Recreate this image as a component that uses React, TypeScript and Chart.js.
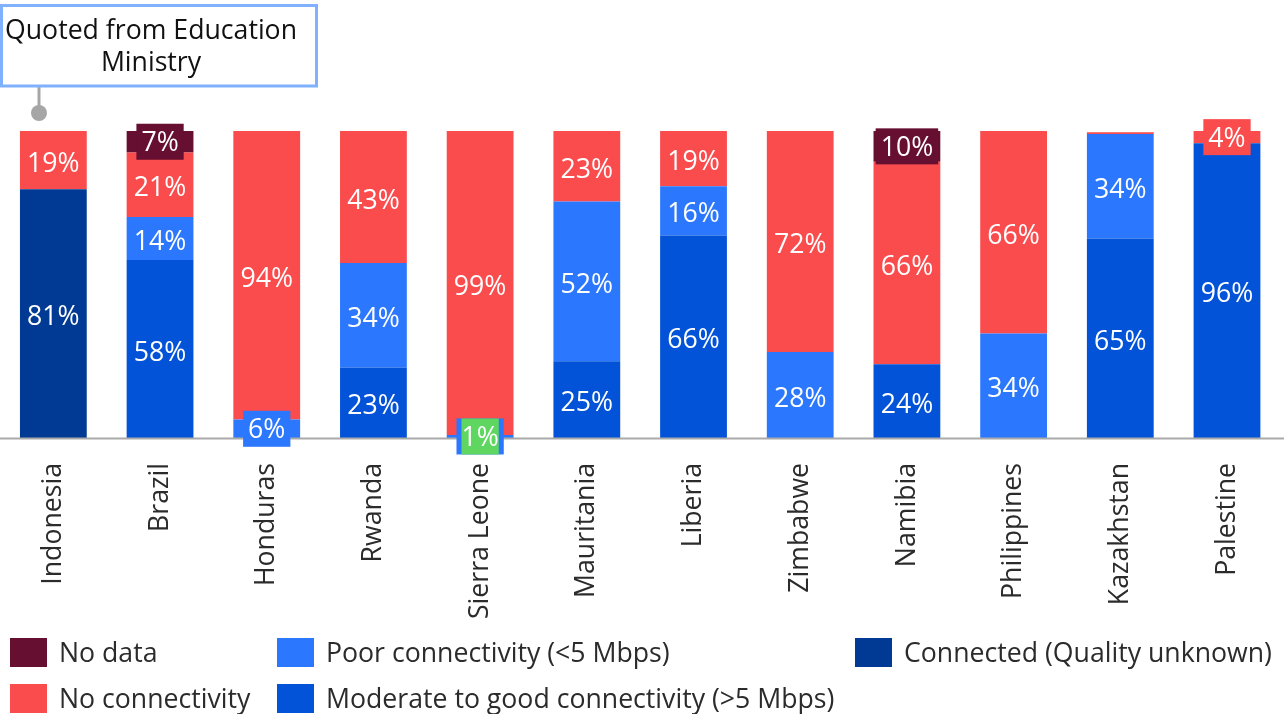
import React, { useEffect, useRef } from "react";
import { Chart, registerables } from "chart.js";

Chart.register(...registerables);

const countries = [
  "Indonesia",
  "Brazil",
  "Honduras",
  "Rwanda",
  "Sierra Leone",
  "Mauritania",
  "Liberia",
  "Zimbabwe",
  "Namibia",
  "Philippines",
  "Kazakhstan",
  "Palestine",
];

// Share of schools (%) per connectivity status, stacked bottom to top
const connectedUnknown = [81, 0, 0, 0, 0, 0, 0, 0, 0, 0, 0, 0];
const moderateGood = [0, 58, 0, 23, 0, 25, 66, 0, 24, 0, 65, 96];
const poorConnectivity = [0, 14, 6, 34, 1, 52, 16, 28, 0, 34, 34, 0];
const noConnectivity = [19, 21, 94, 43, 99, 23, 19, 72, 66, 66, 0.6, 4];
const noData = [0, 7, 0, 0, 0, 0, 0, 0, 10, 0, 0, 0];

const seriesNames = [
  "Connected (Quality unknown)",
  "Moderate to good connectivity (>5 Mbps)",
  "Poor connectivity (<5 Mbps)",
  "No connectivity",
  "No data",
];
const seriesColors = ["#013a94", "#0353d9", "#2b78ff", "#fa4b4d", "#660f31"];
const seriesValues = [connectedUnknown, moderateGood, poorConnectivity, noConnectivity, noData];

// Categories whose small value label gets a green marker
const highlightedLabels = ["Sierra Leone"];

const annotationLines = ["Quoted from Education", "Ministry"];
const annotationCountry = "Indonesia";

// Legend layout: [series index, column, row]
const legendItems: [number, number, number][] = [
  [4, 0, 0],
  [3, 0, 1],
  [2, 1, 0],
  [1, 1, 1],
  [0, 2, 0],
];

const FONT = "'Open Sans', 'Noto Sans', sans-serif";
const FONT_SIZE = 26.67;
const TEXT_COLOR = "#2b2b2b";
const W = 1284;
const H = 714;

const labelsPlugin = {
  id: "segmentLabels",
  afterDatasetsDraw(chart: any) {
    const { ctx, chartArea } = chart;
    ctx.save();
    // baseline
    ctx.strokeStyle = "#aaaaaa";
    ctx.lineWidth = 2;
    ctx.beginPath();
    ctx.moveTo(0, chartArea.bottom + 0.5);
    ctx.lineTo(W, chartArea.bottom + 0.5);
    ctx.stroke();

    ctx.font = `${FONT_SIZE}px ${FONT}`;
    ctx.textAlign = "center";
    ctx.textBaseline = "middle";
    chart.data.datasets.forEach((ds: any, di: number) => {
      const meta = chart.getDatasetMeta(di);
      meta.data.forEach((bar: any, i: number) => {
        const v = ds.data[i];
        if (!v || v < 1) return;
        const { x, y, base } = bar.getProps(["x", "y", "base"], true);
        const top = Math.max(Math.min(y, base), chartArea.top);
        const bottom = Math.max(y, base);
        const cy = (top + bottom) / 2;
        const text = `${v}%`;
        const tw = ctx.measureText(text).width;
        if (bottom - top < 36) {
          ctx.fillStyle = ds.backgroundColor;
          ctx.fillRect(x - tw / 2 - 5, cy - 18, tw + 10, 36);
          if (highlightedLabels.includes(chart.data.labels[i])) {
            ctx.fillStyle = "#5fd65f";
            ctx.fillRect(x - tw / 2, cy - 18, tw, 36);
          }
          ctx.fillStyle = "#ffffff";
          ctx.fillText(text, x, cy + 2);
        } else {
          ctx.fillStyle = "#ffffff";
          ctx.fillText(text, x, cy + 4);
        }
      });
    });
    ctx.restore();
  },
  afterDraw(chart: any) {
    const { ctx, scales } = chart;
    ctx.save();
    // callout
    const ax = Math.round(scales.x.getPixelForValue(countries.indexOf(annotationCountry)) - 14.5);
    ctx.strokeStyle = "#a6a6a6";
    ctx.lineWidth = 3;
    ctx.beginPath();
    ctx.moveTo(ax, 87);
    ctx.lineTo(ax, 113);
    ctx.stroke();
    ctx.fillStyle = "#a6a6a6";
    ctx.beginPath();
    ctx.arc(ax, 113, 8, 0, Math.PI * 2);
    ctx.fill();
    ctx.fillStyle = "#ffffff";
    ctx.fillRect(1.5, 5.5, 315, 80.5);
    ctx.strokeStyle = "#80b1ff";
    ctx.lineWidth = 3;
    ctx.strokeRect(1.5, 5.5, 315, 80.5);
    ctx.fillStyle = "#111111";
    ctx.font = `${FONT_SIZE}px ${FONT}`;
    ctx.textAlign = "center";
    ctx.textBaseline = "alphabetic";
    annotationLines.forEach((line, k) => ctx.fillText(line, 151, 39 + k * 32));

    // legend
    const colX = [10, 277, 855];
    const rowY = [638, 684];
    ctx.font = `${FONT_SIZE}px ${FONT}`;
    ctx.textAlign = "left";
    ctx.textBaseline = "middle";
    legendItems.forEach(([si, c, r]) => {
      ctx.fillStyle = seriesColors[si];
      ctx.fillRect(colX[c], rowY[r], 37, 29);
      ctx.fillStyle = TEXT_COLOR;
      ctx.fillText(seriesNames[si], colX[c] + 49, rowY[r] + 16.5);
    });
    ctx.restore();
  },
};

export default function App() {
  const canvasRef = useRef<HTMLCanvasElement>(null);

  useEffect(() => {
    document.body.style.margin = "0";
    const canvas = canvasRef.current;
    if (!canvas) return;
    const chart = new Chart(canvas, {
      type: "bar",
      data: {
        labels: countries,
        datasets: seriesValues.map((values, k) => ({
          label: seriesNames[k],
          data: values,
          backgroundColor: seriesColors[k],
          borderWidth: 0,
          barPercentage: 0.626,
          categoryPercentage: 1,
          clip: 0,
        })),
      },
      options: {
        responsive: false,
        animation: false,
        devicePixelRatio: 1,
        layout: { padding: { top: 131, left: 0, right: 0, bottom: 0 } },
        plugins: {
          legend: { display: false },
          tooltip: { enabled: false },
        },
        scales: {
          x: {
            stacked: true,
            grid: { display: false, drawTicks: false },
            border: { display: false },
            ticks: {
              minRotation: 90,
              maxRotation: 90,
              padding: 25,
              color: TEXT_COLOR,
              font: { family: FONT, size: FONT_SIZE },
              autoSkip: false,
            },
            afterFit: (scale: any) => {
              scale.height = 276;
            },
          },
          y: {
            stacked: true,
            display: false,
            min: 0,
            max: 100,
          },
        },
      },
      plugins: [labelsPlugin],
    });
    return () => chart.destroy();
  }, []);

  return (
    <div style={{ width: W, height: H, position: "relative", background: "#fff" }}>
      <canvas ref={canvasRef} width={W} height={H} />
    </div>
  );
}
